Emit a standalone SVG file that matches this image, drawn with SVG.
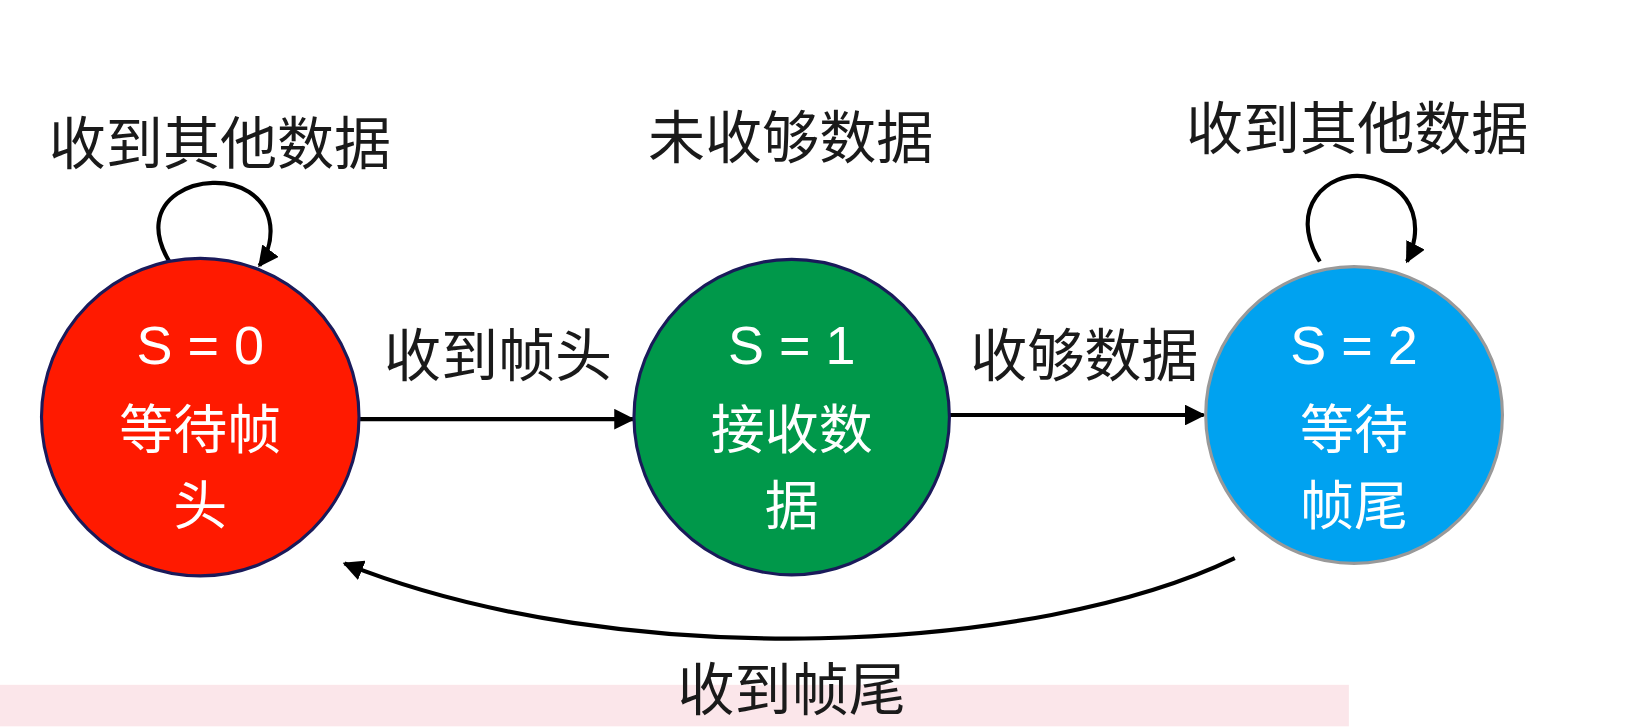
<svg xmlns="http://www.w3.org/2000/svg" width="1627" height="727" viewBox="0 0 1627 727">
<style>
.lbl{font-family:"Noto Sans CJK SC","Liberation Sans",sans-serif;font-size:55px;fill:#1a1a1a;text-anchor:middle}
.in{font-family:"Liberation Sans","Noto Sans CJK SC",sans-serif;font-size:52px;fill:#fff;text-anchor:middle}
.ln{fill:none;stroke:#000;stroke-width:4}
</style>
<defs><marker id="ar" viewBox="0 0 10 10" refX="9" refY="5" markerWidth="5" markerHeight="5" orient="auto"><path d="M0,0L10,5L0,10z" fill="#000"/></marker></defs>
<rect width="1627" height="727" fill="#fff"/>
<g transform="scale(1.0376)">
<rect x="0" y="660" width="1300" height="40" fill="#fbe6ea"/>
<g id="connectors">
<path class="ln" d="M167,258 C120,190 200,160 240,185 C270,205 262,240 250,256" marker-end="url(#ar)"/>
<path class="ln" d="M1272,252 C1240,200 1280,165 1315,170 C1370,180 1370,225 1356,252" marker-end="url(#ar)"/>
<line class="ln" x1="347" y1="404" x2="610" y2="404" marker-end="url(#ar)"/>
<line class="ln" x1="915" y1="400" x2="1160" y2="400" marker-end="url(#ar)"/>
<path class="ln" d="M1190,538 C1000,630 600,650 332,543" marker-end="url(#ar)"/>
</g>
<g id="s0"><circle cx="193" cy="402" r="153" fill="#ff1a00" stroke="#1a1a5a" stroke-width="3"/>
<text class="in" x="193" y="351">S = 0</text><text class="in" x="193" y="433">等待帧</text><text class="in" x="193" y="506">头</text></g>
<g id="s1"><circle cx="763" cy="402" r="152" fill="#00984a" stroke="#1a1a5a" stroke-width="3"/>
<text class="in" x="763" y="351">S = 1</text><text class="in" x="763" y="433">接收数</text><text class="in" x="763" y="506">据</text></g>
<g id="s2"><circle cx="1305" cy="400" r="143" fill="#00a2f0" stroke="#999" stroke-width="3"/>
<text class="in" x="1305" y="351">S = 2</text><text class="in" x="1305" y="433">等待</text><text class="in" x="1305" y="506">帧尾</text></g>
<g id="labels">
<text class="lbl" x="212" y="158">收到其他数据</text>
<text class="lbl" x="762" y="152">未收够数据</text>
<text class="lbl" x="1308" y="144">收到其他数据</text>
<text class="lbl" x="480" y="362">收到帧头</text>
<text class="lbl" x="1045" y="362">收够数据</text>
<text class="lbl" x="763" y="684">收到帧尾</text>
</g>
</g>
</svg>
